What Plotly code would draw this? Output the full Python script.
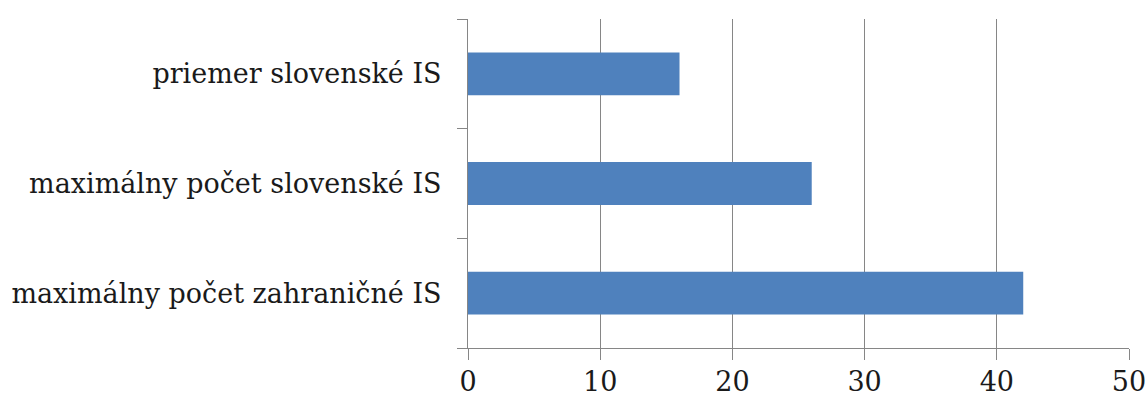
import plotly.graph_objects as go

# Categories listed bottom-to-top as they appear on the vertical axis
categories = [
    "maximálny počet zahraničné IS",
    "maximálny počet slovenské IS",
    "priemer slovenské IS",
]
values = [42, 26, 16]
x_ticks = [0, 10, 20, 30, 40, 50]

BAR_COLOR = "#4F81BD"
GRID_COLOR = "#868686"
TEXT_COLOR = "#1a1a1a"
FONT = "DejaVu Serif"
FONT_SIZE = 27

fig = go.Figure(
    go.Bar(
        y=categories,
        x=values,
        orientation="h",
        marker=dict(color=BAR_COLOR, line=dict(width=0)),
    )
)

fig.update_layout(
    width=1148,
    height=408,
    margin=dict(l=468, r=19, t=19, b=60, autoexpand=False),
    paper_bgcolor="white",
    plot_bgcolor="white",
    bargap=0.61,
    showlegend=False,
    font=dict(family=FONT, size=FONT_SIZE, color=TEXT_COLOR),
)

fig.update_xaxes(
    range=[0, 50],
    tickvals=x_ticks,
    automargin=False,
    showgrid=True,
    gridcolor=GRID_COLOR,
    gridwidth=1,
    zeroline=False,
    showline=True,
    linecolor=GRID_COLOR,
    linewidth=1,
    ticks="outside",
    ticklen=11,
    tickcolor=GRID_COLOR,
    ticklabelstandoff=-1,
    tickfont=dict(family=FONT, size=FONT_SIZE, color=TEXT_COLOR),
)

fig.update_yaxes(
    type="category",
    categoryorder="array",
    categoryarray=categories,
    automargin=False,
    tickson="boundaries",
    showgrid=False,
    showline=True,
    linecolor=GRID_COLOR,
    linewidth=1,
    ticks="outside",
    ticklen=10,
    tickcolor=GRID_COLOR,
    ticklabelstandoff=20,
    tickfont=dict(family=FONT, size=FONT_SIZE, color=TEXT_COLOR),
)

fig.write_html("out.html")
